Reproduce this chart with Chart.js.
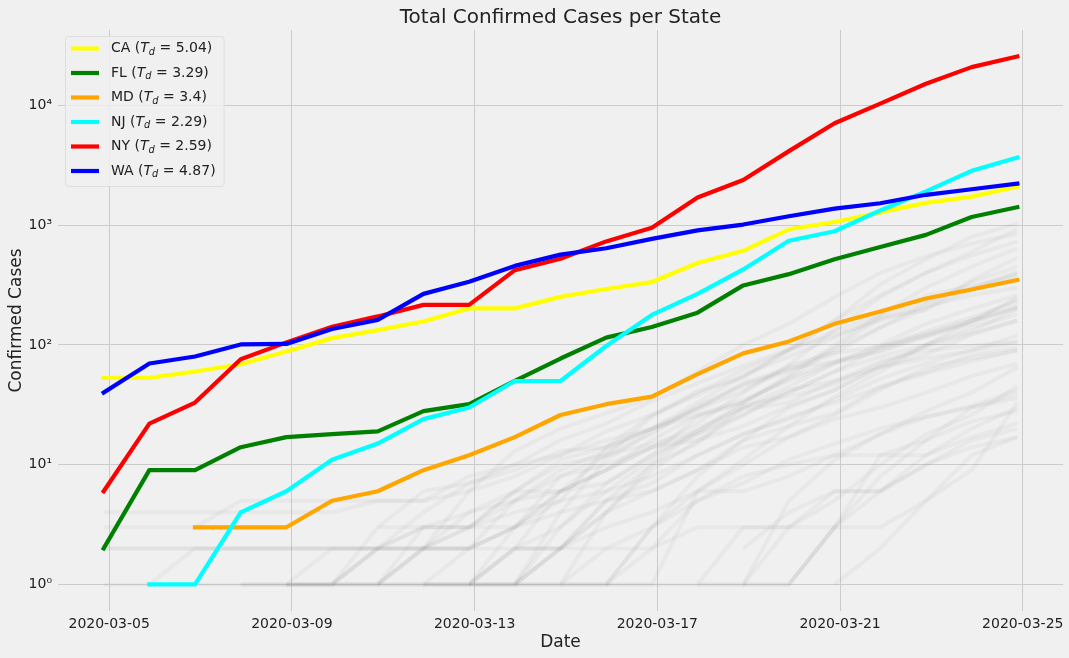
<!DOCTYPE html>
<html>
<head>
<meta charset="utf-8">
<script src="https://cdn.jsdelivr.net/npm/chart.js@4/dist/chart.umd.min.js"></script>
<style>
  html, body { margin: 0; padding: 0; background: #f0f0f0; }
  canvas { display: block; background: #f0f0f0; }
</style>
</head>
<body>
<canvas id="casesChart" width="1069" height="658"></canvas>
<script>
// dates of the daily reports (values were stamped ~3h before midnight)
const dates = ['2020-03-05', '2020-03-06', '2020-03-07', '2020-03-08', '2020-03-09', '2020-03-10', '2020-03-11',
  '2020-03-12', '2020-03-13', '2020-03-14', '2020-03-15', '2020-03-16', '2020-03-17', '2020-03-18',
  '2020-03-19', '2020-03-20', '2020-03-21', '2020-03-22', '2020-03-23', '2020-03-24', '2020-03-25'];
const reportShift = -0.12; // days

const states = ['CA', 'FL', 'MD', 'NJ', 'NY', 'WA'];
const doublingTimes = [5.04, 3.29, 3.4, 2.29, 2.59, 4.87];
const stateColors = ['yellow', 'green', 'orange', 'cyan', 'red', 'blue'];

const caCases = [53, 53, 60, 69, 88, 114, 133, 157, 202, 202, 252, 293, 335, 483, 611, 924, 1063, 1279, 1536, 1733, 2102];
const flCases = [2, 9, 9, 14, 17, 18, 19, 28, 32, 50, 77, 115, 141, 186, 314, 390, 520, 658, 830, 1171, 1412];
const mdCases = [null, null, 3, 3, 3, 5, 6, 9, 12, 17, 26, 32, 37, 57, 85, 107, 150, 190, 244, 290, 349];
const njCases = [null, 1, 1, 4, 6, 11, 15, 24, 30, 50, 50, 98, 178, 267, 427, 742, 890, 1327, 1914, 2844, 3675];
const nyCases = [6, 22, 33, 76, 105, 142, 173, 216, 216, 421, 524, 732, 950, 1700, 2382, 4152, 7102, 10356, 15168, 20875, 25665];
const waCases = [40, 70, 80, 101, 102, 136, 162, 267, 337, 457, 568, 642, 769, 904, 1012, 1187, 1376, 1524, 1793, 1996, 2221];
const highlighted = [caCases, flCases, mdCases, njCases, nyCases, waCases];

// every other state, drawn faint in the background
const _ = null;
const otherStates = [
  [_, _, _, 1, 1, 1, 2, 2, 4, 6, 10, 12, 15, 19, 31, 37, 47, 70, 96, 125, 160],
  [2, 2, 2, 2, 2, 2, 2, 3, 3, 5, 6, 9, 14, 18, 26, 42, 50, 65, 77, 90, 105],
  [_, _, _, _, 1, 1, 1, 1, 2, 3, 8, 12, 25, 40, 62, 90, 130, 180, 260, 310, 380],
  [_, _, _, _, _, _, 1, 2, 6, 13, 20, 27, 36, 60, 100, 150, 250, 400, 550, 700, 850],
  [_, _, _, 1, 1, 1, 2, 2, 2, 3, 5, 14, 20, 30, 45, 60, 85, 140, 200, 290, 395],
  [_, _, _, _, _, _, _, _, 1, 1, 1, 1, 2, 5, 8, 10, 12, 18, 25, 31, 42],
  [3, 3, 3, 5, 5, 5, 5, 5, 8, 10, 12, 16, 20, 26, 35, 50, 70, 90, 120, 160, 210],
  [_, _, _, _, _, _, _, _, _, _, _, 1, 3, 8, 16, 30, 42, 66, 100, 130, 200],
  [_, _, _, _, 1, 1, 1, 2, 3, 3, 6, 9, 14, 22, 40, 67, 86, 97, 125, 160, 200],
  [_, _, 1, 1, 1, 2, 2, 4, 7, 10, 16, 22, 34, 48, 67, 92, 120, 160, 210, 260, 300],
  [_, _, _, _, _, _, _, _, 1, 1, 2, 5, 7, 12, 18, 24, 35, 52, 70, 90, 120],
  [_, _, _, _, _, 1, 1, 3, 3, 4, 5, 6, 11, 20, 30, 40, 60, 80, 100, 140, 180],
  [_, _, _, _, _, _, _, _, _, _, _, _, _, _, 1, 1, 3, 6, 10, 16, 20],
  [_, _, _, _, _, _, _, _, _, _, _, _, _, _, 2, 4, 6, 6, 10, 14, 17],
  [2, 2, 2, 2, 2, 2, 2, 2, 2, 2, 2, 3, 4, 6, 10, 17, 24, 30, 40, 55, 70],
  [_, _, _, _, _, _, 1, 1, 1, 1, 2, 2, 2, 3, 3, 3, 6, 6, 12, 20, 30],
  [_, _, _, _, _, _, _, 1, 1, 2, 2, 4, 9, 16, 26, 40, 60, 95, 120, 150, 210],
  [_, _, _, _, _, _, _, _, _, 1, 4, 11, 19, 29, 48, 64, 72, 88, 116, 155, 250],
  [_, _, _, _, _, _, _, _, _, _, _, _, _, _, _, _, 1, 2, 5, 9, 33],
  [_, _, _, _, _, _, _, _, _, 2, 3, 6, 8, 12, 18, 25, 33, 44, 58, 73, 90],
  [_, _, _, _, _, _, _, _, _, _, 1, 2, 3, 6, 11, 21, 37, 60, 100, 160, 240],
  [_, _, _, _, _, _, _, 1, 1, 1, 3, 7, 12, 18, 29, 33, 50, 73, 90, 98, 107],
  [_, _, _, _, 1, 1, 3, 6, 7, 9, 13, 14, 26, 41, 53, 92, 160, 260, 400, 560, 730],
  [_, _, _, _, _, _, _, 1, 1, 3, 6, 9, 16, 26, 33, 53, 73, 95, 130, 170, 230],
  [_, _, _, _, _, _, _, _, _, 1, 1, 4, 10, 15, 30, 45, 70, 100, 150, 200, 260],
  [_, _, _, _, _, _, _, _, _, 1, 1, 1, 3, 5, 7, 11, 15, 20, 25, 30, 36],
  [_, _, _, _, _, _, _, _, _, _, _, _, _, _, 1, 1, 3, 12, 16, 23, 28],
  [1, 1, 2, 2, 2, 2, 2, 2, 2, 3, 4, 5, 6, 9, 16, 21, 27, 45, 60, 82, 95],
  [_, _, _, _, _, _, 1, 2, 3, 6, 11, 14, 20, 29, 41, 68, 135, 250, 400, 600, 930],
  [_, _, _, _, _, 1, 1, 1, 1, 2, 6, 7, 12, 25, 33, 53, 94, 167, 197, 347, 536],
  [_, _, _, _, _, _, _, _, 1, 2, 2, 4, 6, 9, 14, 17, 26, 42, 65, 77, 90],
  [_, _, _, _, _, _, _, _, _, _, _, _, _, 1, 1, 5, 11, 18, 28, 40, 65],
  [_, _, _, _, _, _, _, _, _, _, _, _, _, 1, 1, 3, 5, 10, 18, 26, 45],
  [_, _, _, _, 1, 1, 2, 3, 4, 5, 8, 10, 14, 16, 21, 31, 42, 66, 83, 122, 160],
  [_, _, _, _, _, _, _, _, _, _, _, 1, 1, 1, 3, 3, 3, 3, 5, 12, 17],
  [_, _, _, _, _, _, 3, 3, 3, 6, 6, 12, 18, 31, 47, 62, 92, 140, 220, 335, 450],
  [_, _, _, _, _, _, _, _, _, _, _, _, _, _, _, 1, 3, 8, 16, 30, 39],
  [_, _, _, _, _, _, _, 2, 2, 5, 9, 13, 20, 33, 55, 90, 160, 320, 520, 800, 1030],
  [_, _, _, _, _, _, _, _, 1, 1, 2, 5, 10, 19, 33, 56, 100, 180, 300, 450, 640],
  [4, 4, 4, 4, 4, 4, 5, 5, 6, 8, 12, 19, 26, 38, 56, 80, 115, 170, 230, 300, 410],
  [_, _, _, _, _, _, _, _, _, _, 1, 1, 1, 6, 6, 8, 12, 12, 12, 17, 22]
];

const chartTitle = 'Total Confirmed Cases per State';
const xTickDays = [0, 4, 8, 12, 16, 20];

const day0 = Date.parse(dates[0]);
function dayOf(d) { return (Date.parse(d) - day0) / 864e5; }

function toPoints(values) {
  return dates.map((d, i) => ({ x: dayOf(d) + reportShift, y: values[i] }))
    .filter(p => p.y !== null);
}

const FONT = "'DejaVu Sans', sans-serif";
const TEXT = '#222';

const datasets = [];
highlighted.forEach((values, i) => {
  datasets.push({
    label: states[i],
    data: toPoints(values),
    borderColor: stateColors[i],
    borderWidth: 4.2,
    order: states.length - i,
    borderCapStyle: 'square',
    borderJoinStyle: 'round'
  });
});
otherStates.forEach(values => {
  datasets.push({
    label: '',
    data: toPoints(values),
    borderColor: 'rgba(128,128,128,0.075)',
    borderWidth: 4,
    order: 100,
    borderJoinStyle: 'round'
  });
});

// axis ranges with matplotlib's 5% margins
const allX = datasets.flatMap(ds => ds.data.map(p => p.x));
const xLo = Math.min(...allX), xHi = Math.max(...allX);
const xPad = (xHi - xLo) * 0.05;
const allLogY = datasets.flatMap(ds => ds.data.map(p => Math.log10(p.y)));
const yLo = Math.min(...allLogY), yHi = Math.max(...allLogY);
const yPad = (yHi - yLo) * 0.05;

const superDigits = { '0': '⁰', '1': '¹', '2': '²', '3': '³', '4': '⁴', '5': '⁵', '-': '⁻' };

// title centred over the plot area, like matplotlib's axes title
const titlePlugin = {
  id: 'axesTitle',
  afterDraw(chart) {
    const ctx = chart.ctx;
    const area = chart.chartArea;
    ctx.save();
    ctx.font = "20px " + FONT;
    ctx.fillStyle = TEXT;
    ctx.textAlign = 'center';
    ctx.textBaseline = 'alphabetic';
    ctx.fillText(chartTitle, (area.left + area.right) / 2, 22.5);
    ctx.restore();
  }
};

// legend with T_d subscripts
const legendPlugin = {
  id: 'tdLegend',
  afterDatasetsDraw(chart) {
    const ctx = chart.ctx;
    const area = chart.chartArea;
    const left = area.left + 7, top = area.top + 6;
    const rowH = 24.5, fs = 14;
    const normal = fs + "px " + FONT;
    const italic = "italic " + fs + "px " + FONT;
    const small = "italic " + (fs * 0.7) + "px " + FONT;

    ctx.save();
    const pieces = states.map((s, i) => [
      [s + ' (', normal, 0],
      ['T', italic, 0],
      ['d', small, 3.5],
      [' = ' + doublingTimes[i] + ')', normal, 0]
    ]);
    let maxW = 0;
    pieces.forEach(p => {
      let w = 0;
      p.forEach(([t, f]) => { ctx.font = f; w += ctx.measureText(t).width; });
      maxW = Math.max(maxW, w);
    });
    const textX = left + 46;
    const boxW = textX - left + maxW + 8;
    const boxH = rowH * states.length + 3;

    ctx.beginPath();
    ctx.roundRect(left + 0.5, top + 0.5, boxW, boxH, 3);
    ctx.fillStyle = 'rgba(240,240,240,0.85)';
    ctx.fill();
    ctx.strokeStyle = '#dedede';
    ctx.lineWidth = 1;
    ctx.stroke();

    pieces.forEach((p, i) => {
      const y = top + 12.5 + i * rowH;
      ctx.beginPath();
      ctx.moveTo(left + 6, y);
      ctx.lineTo(left + 34, y);
      ctx.strokeStyle = stateColors[i];
      ctx.lineWidth = 4.2;
      ctx.stroke();
      let x = textX;
      ctx.fillStyle = TEXT;
      ctx.textBaseline = 'middle';
      ctx.textAlign = 'left';
      p.forEach(([t, f, dy]) => {
        ctx.font = f;
        ctx.fillText(t, x, y + dy);
        x += ctx.measureText(t).width;
      });
    });
    ctx.restore();
  }
};

new Chart(document.getElementById('casesChart'), {
  type: 'line',
  data: { datasets: datasets },
  plugins: [legendPlugin, titlePlugin],
  options: {
    responsive: false,
    animation: false,
    devicePixelRatio: 1,
    parsing: false,
    elements: { point: { radius: 0 }, line: { tension: 0 } },
    layout: { padding: { left: 0, right: 6, top: 30, bottom: 0 } },
    plugins: {
      legend: { display: false },
      tooltip: { enabled: false },
      title: { display: false }
    },
    scales: {
      x: {
        type: 'linear',
        min: xLo - xPad,
        max: xHi + xPad,
        border: { display: false },
        grid: { color: '#cbcbcb', lineWidth: 1, drawTicks: false },
        afterBuildTicks(scale) { scale.ticks = xTickDays.map(v => ({ value: v })); },
        afterFit(scale) { scale.height = 47; },
        ticks: {
          padding: 5,
          color: TEXT,
          font: { family: FONT, size: 14 },
          maxRotation: 0,
          callback: v => new Date(day0 + v * 864e5).toISOString().slice(0, 10)
        },
        title: {
          display: true,
          text: 'Date',
          color: TEXT,
          font: { family: FONT, size: 17 },
          padding: { top: 0, bottom: 5 }
        }
      },
      y: {
        type: 'logarithmic',
        min: Math.pow(10, yLo - yPad),
        max: Math.pow(10, yHi + yPad),
        border: { display: false },
        grid: { color: '#cbcbcb', lineWidth: 1, drawTicks: false },
        afterBuildTicks(scale) {
          const ticks = [];
          for (let e = Math.ceil(yLo - yPad); e <= Math.floor(yHi + yPad); e++) ticks.push({ value: Math.pow(10, e) });
          scale.ticks = ticks;
        },
        afterFit(scale) { scale.width = 58; },
        ticks: {
          padding: 6,
          color: TEXT,
          font: { family: FONT, size: 14 },
          callback: v => '10' + String(Math.round(Math.log10(v))).split('').map(c => superDigits[c]).join('')
        },
        title: {
          display: true,
          text: 'Confirmed Cases',
          color: TEXT,
          font: { family: FONT, size: 17 },
          padding: { top: 6, bottom: 0 }
        }
      }
    }
  }
});
</script>
</body>
</html>
